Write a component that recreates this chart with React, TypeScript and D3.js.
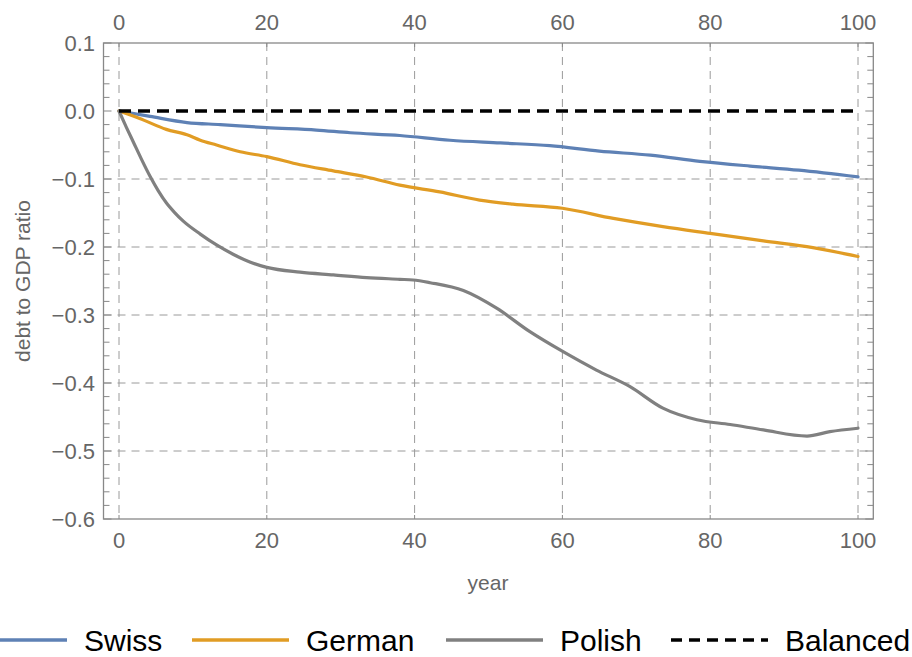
import React from "react";
import * as d3 from "d3";

const swissX = [0, 4.2, 9.2, 13.7, 20, 26.7, 31.3, 38, 44.8, 51.6, 58.3, 65, 71.9, 78.6, 85.4, 92, 100];
const swissY = [0, -0.008, -0.017, -0.020, -0.0245, -0.028, -0.032, -0.036, -0.043, -0.047, -0.051, -0.059, -0.065, -0.074, -0.081, -0.087, -0.097];

const germanX = [0, 2.8, 6.4, 9.2, 11, 13.2, 16.4, 20, 24.5, 29, 33.5, 38, 43.4, 48.8, 53.3, 60, 66.9, 73.6, 80, 87.2, 93.9, 100];
const germanY = [0, -0.011, -0.027, -0.035, -0.043, -0.05, -0.06, -0.067, -0.079, -0.088, -0.097, -0.109, -0.119, -0.131, -0.137, -0.143, -0.158, -0.170, -0.180, -0.191, -0.201, -0.214];

const polishX = [0, 1, 2, 3, 4.2, 5.3, 6.4, 7.5, 8.7, 11, 13.2, 15.5, 17.7, 20, 24.5, 29, 33.5, 38, 39.8, 42.1, 46.6, 51.1, 55.6, 60.1, 64.6, 69.1, 73.6, 78.2, 82.7, 87.2, 93.1, 96.2, 100];
const polishY = [0, -0.024, -0.047, -0.07, -0.096, -0.117, -0.135, -0.149, -0.162, -0.181, -0.197, -0.211, -0.222, -0.230, -0.237, -0.241, -0.245, -0.2475, -0.2485, -0.2525, -0.264, -0.290, -0.3245, -0.354, -0.381, -0.405, -0.437, -0.454, -0.461, -0.469, -0.478, -0.4715, -0.4665];

const balancedX = [0, 100];
const balancedY = [0, 0];

const xTicks = [0, 20, 40, 60, 80, 100];
const yTicks = [0.1, 0, -0.1, -0.2, -0.3, -0.4, -0.5, -0.6];
const yMinorTicks = d3.range(-0.6, 0.1001, 0.02);

const seriesNames = ["Swiss", "German", "Polish", "Balanced"];
const seriesColors = ["#5E81B5", "#E19C24", "#808080", "#000000"];

const W = 912;
const H = 657;
const frame = { left: 103.5, right: 873.3, top: 43, bottom: 519 };

export default function App() {
  const x = d3.scaleLinear().domain([0, 100]).range([119, 858]);
  const y = d3.scaleLinear().domain([-0.6, 0.1]).range([frame.bottom, frame.top]);

  const line = (xs: number[], ys: number[]) =>
    d3
      .line<number>()
      .x((_, i) => x(xs[i]))
      .y((v) => y(v))
      .curve(d3.curveMonotoneX)(ys) || "";

  const series = [
    { xs: swissX, ys: swissY },
    { xs: germanX, ys: germanY },
    { xs: polishX, ys: polishY },
  ];

  const fmtY = (v: number) => {
    const s = Math.abs(v).toFixed(1);
    return v < -1e-9 ? "\u2212" + s : s;
  };

  const tickColor = "#666666";
  const frameColor = "#888888";
  const gridColor = "#9a9a9a";
  const font = "'Liberation Sans', Arial, Helvetica, sans-serif";

  const legendStarts = [-30, 192, 446, 671];
  const legendLineLen = 97;
  const legendY = 640;

  return (
    <div style={{ position: "absolute", left: 0, top: 0 }}>
      <svg width={W} height={H} style={{ display: "block", background: "#fff" }} fontFamily={font}>
        <g stroke={gridColor} strokeWidth={1} strokeDasharray="8,6">
          {xTicks.map((t) => (
            <line key={"gx" + t} x1={x(t)} x2={x(t)} y1={frame.top} y2={frame.bottom} />
          ))}
          {yTicks
            .filter((t) => t < 0.05 && t > -0.55 && Math.abs(t) > 1e-9)
            .map((t) => (
              <line key={"gy" + t} x1={frame.left} x2={frame.right} y1={y(t)} y2={y(t)} />
            ))}
        </g>

        <rect
          x={frame.left}
          y={frame.top}
          width={frame.right - frame.left}
          height={frame.bottom - frame.top}
          fill="none"
          stroke={frameColor}
          strokeWidth={1.3}
        />

        <g stroke={frameColor} strokeWidth={1}>
          {yMinorTicks.map((t, i) => {
            const major = i % 5 === 0;
            const len = major ? 8 : 6;
            return (
              <g key={"yt" + i}>
                <line x1={frame.left} x2={frame.left + len} y1={y(t)} y2={y(t)} />
                <line x1={frame.right} x2={frame.right - len} y1={y(t)} y2={y(t)} />
              </g>
            );
          })}
          {xTicks.map((t) => (
            <g key={"xt" + t}>
              <line x1={x(t)} x2={x(t)} y1={frame.bottom} y2={frame.bottom - 4} />
              <line x1={x(t)} x2={x(t)} y1={frame.top} y2={frame.top + 4} />
            </g>
          ))}
        </g>

        <g fill={tickColor} fontSize={22}>
          {yTicks.map((t) => (
            <text key={"yl" + t} x={95} y={y(t)} textAnchor="end" dominantBaseline="central">
              {fmtY(t)}
            </text>
          ))}
          {xTicks.map((t) => (
            <text key={"xlb" + t} x={x(t)} y={540} textAnchor="middle" dominantBaseline="central">
              {t}
            </text>
          ))}
          {xTicks.map((t) => (
            <text key={"xlt" + t} x={x(t)} y={22} textAnchor="middle" dominantBaseline="central">
              {t}
            </text>
          ))}
        </g>

        <text x={488} y={582} fill={tickColor} fontSize={21} textAnchor="middle" dominantBaseline="central">
          year
        </text>
        <text
          transform={`translate(22,${(frame.top + frame.bottom) / 2}) rotate(-90)`}
          fill={tickColor}
          fontSize={21}
          textAnchor="middle"
          dominantBaseline="central"
        >
          debt to GDP ratio
        </text>

        <g fill="none" strokeWidth={3.2} strokeLinejoin="round" strokeLinecap="round">
          {series.map((s, i) => (
            <path key={"s" + i} d={line(s.xs, s.ys)} stroke={seriesColors[i]} />
          ))}
        </g>
        <path
          d={line(balancedX, balancedY)}
          fill="none"
          stroke={seriesColors[3]}
          strokeWidth={3.5}
          strokeDasharray="12,7"
        />

        <g>
          {seriesNames.map((name, i) => (
            <g key={"lg" + i}>
              <line
                x1={legendStarts[i]}
                x2={legendStarts[i] + legendLineLen}
                y1={legendY}
                y2={legendY}
                stroke={seriesColors[i]}
                strokeWidth={3.5}
                strokeDasharray={i === 3 ? "11,7" : undefined}
              />
              <text
                x={legendStarts[i] + legendLineLen + 17}
                y={legendY}
                fontSize={30}
                fill="#000"
                dominantBaseline="central"
              >
                {name}
              </text>
            </g>
          ))}
        </g>
      </svg>
    </div>
  );
}
